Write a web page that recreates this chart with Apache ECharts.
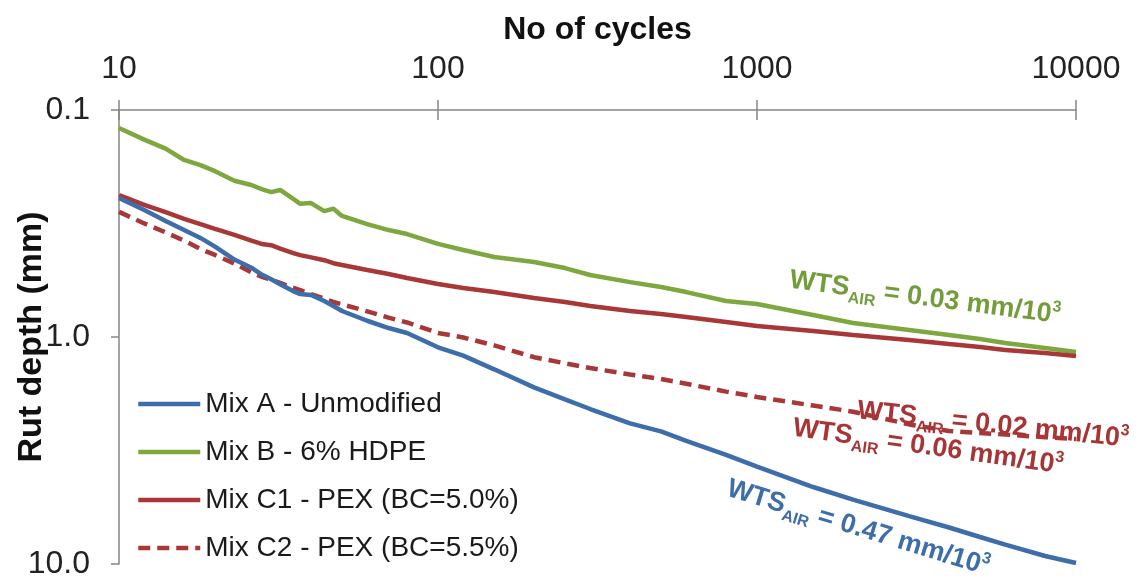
<!DOCTYPE html>
<html><head><meta charset="utf-8">
<script src="https://cdn.jsdelivr.net/npm/echarts@6/dist/echarts.min.js"></script>
<style>html,body{margin:0;padding:0;background:#fff}#c{width:1140px;height:585px}</style>
</head><body><div id="c"></div>
<script>
// ---- data ----
const cycles = [10,12,14,16,18,20,23,26,28,30,32,35,37,40,44,47,50,60,70,80,100,120,150,200,250,300,400,500,600,800,1000,1500,2000,3000,4000,5000,6000,8000,10000];
const mixA  = [0.244,0.276,0.308,0.338,0.366,0.400,0.456,0.495,0.531,0.557,0.586,0.626,0.647,0.653,0.694,0.730,0.768,0.848,0.913,0.960,1.110,1.208,1.388,1.667,1.883,2.076,2.403,2.605,2.871,3.306,3.727,4.580,5.205,6.157,6.906,7.603,8.210,9.220,9.900];
const mixB  = [0.120,0.135,0.148,0.166,0.175,0.186,0.205,0.214,0.223,0.230,0.225,0.245,0.259,0.257,0.279,0.272,0.293,0.318,0.338,0.352,0.389,0.414,0.444,0.467,0.497,0.533,0.573,0.602,0.634,0.694,0.716,0.800,0.868,0.932,0.980,1.020,1.063,1.118,1.165];
const mixC1 = [0.237,0.262,0.282,0.302,0.318,0.334,0.355,0.376,0.389,0.394,0.408,0.426,0.436,0.446,0.459,0.473,0.482,0.507,0.528,0.550,0.584,0.608,0.634,0.673,0.701,0.730,0.769,0.792,0.816,0.859,0.895,0.941,0.980,1.031,1.074,1.107,1.141,1.176,1.212];
const mixC2 = [0.281,0.316,0.346,0.376,0.410,0.435,0.475,0.519,0.543,0.560,0.578,0.606,0.621,0.647,0.678,0.701,0.718,0.771,0.822,0.863,0.960,1.005,1.089,1.227,1.305,1.370,1.463,1.531,1.606,1.740,1.838,2.004,2.133,2.427,2.594,2.648,2.690,2.763,2.815];
const seriesNames = ['Mix A - Unmodified','Mix B - 6% HDPE','Mix C1 - PEX (BC=5.0%)','Mix C2 - PEX (BC=5.5%)'];
const xTickValues = [10,100,1000,10000];
const yTickValues = [0.1,1.0,10.0];
const annotations = [
  {text:'0.03', color:'#739D3A'},
  {text:'0.02', color:'#A83535'},
  {text:'0.06', color:'#A83535'},
  {text:'0.47', color:'#3D6DAA'}
];

// ---- styles ----
const FONT = '"Liberation Sans", Arial, sans-serif';
const BLUE = '#3D6DAA', GREEN = '#7EA83F', RED = '#A83838';
const AXIS = '#868686';

function pairs(xs, ys){ return xs.map((x,i)=>[x, ys[i]]); }

function annot(i, x, y, rotDeg){
  const a = annotations[i];
  return {
    type:'text', x:x, y:y, rotation: -rotDeg*Math.PI/180, z:10,
    style:{
      text:'{w|WTS}{s|AIR}{w| = ' + a.text + ' mm/10}{p|3}',
      fill:a.color, align:'center', verticalAlign:'middle',
      rich:{
        w:{fontSize:27, fontWeight:'bold', fontFamily:FONT, fill:a.color, lineHeight:32, verticalAlign:'middle'},
        s:{fontSize:16, fontWeight:'bold', fontFamily:FONT, fill:a.color, lineHeight:16, verticalAlign:'bottom', padding:[0,0,-2,0]},
        p:{fontSize:16, fontWeight:'bold', fontFamily:FONT, fill:a.color, lineHeight:16, verticalAlign:'top'}
      }
    }
  };
}

const chart = echarts.init(document.getElementById('c'), null, {renderer:'canvas'});
chart.setOption({
  animation:false,
  backgroundColor:'#ffffff',
  grid:{left:119, right:64, top:110, bottom:21, containLabel:false, outerBoundsMode:'none'},
  xAxis:[{
    type:'log', logBase:10, min:10, max:10000, position:'top',
    name:'No of cycles', nameLocation:'middle', nameGap:64, nameMoveOverlap:false,
    nameTextStyle:{fontSize:32, fontWeight:'bold', color:'#111', fontFamily:FONT},
    axisLine:{show:true, lineStyle:{color:AXIS, width:1.5}},
    axisTick:{show:true, length:10, lineStyle:{color:AXIS, width:1.5}},
    minorTick:{show:false},
    splitLine:{show:false},
    axisLabel:{show:true, margin:25, fontSize:32, color:'#222', fontFamily:FONT, showMinLabel:true, showMaxLabel:true,
      formatter:v=>{const r=Math.round(v); return xTickValues.indexOf(r)>=0?String(r):'';}}
  },{
    type:'log', logBase:10, min:10, max:10000, position:'top',
    axisLine:{show:false}, axisLabel:{show:false}, splitLine:{show:false},
    axisTick:{show:true, inside:true, length:10, lineStyle:{color:AXIS, width:1.5}}
  }],
  yAxis:{
    type:'log', logBase:10, min:0.1, max:10, inverse:true,
    name:'Rut depth (mm)', nameLocation:'middle', nameGap:70, nameRotate:90, nameMoveOverlap:false,
    nameTextStyle:{fontSize:34, fontWeight:'bold', color:'#111', fontFamily:FONT},
    axisLine:{show:true, lineStyle:{color:AXIS, width:1.5}},
    axisTick:{show:true, length:8, lineStyle:{color:AXIS, width:1.5}},
    splitLine:{show:false},
    axisLabel:{show:true, margin:29, fontSize:32, color:'#222', fontFamily:FONT, showMinLabel:true, showMaxLabel:true,
      formatter:v=>Number(v).toFixed(1)}
  },
  legend:{
    show:true, orient:'vertical', left:131, top:385,
    itemWidth:62, itemHeight:14, itemGap:20,
    data:seriesNames,
    itemStyle:{opacity:0},
    lineStyle:{width:4.5},
    textStyle:{fontSize:28, color:'#1a1a1a', fontFamily:FONT, lineHeight:28}
  },
  series:[
    {name:seriesNames[0], type:'line', data:pairs(cycles,mixA), symbol:'none', showSymbol:false, lineStyle:{color:BLUE, width:4.5}, itemStyle:{color:BLUE}, z:3},
    {name:seriesNames[1], type:'line', data:pairs(cycles,mixB), symbol:'none', showSymbol:false, lineStyle:{color:GREEN, width:4.5}, itemStyle:{color:GREEN}, z:2},
    {name:seriesNames[2], type:'line', data:pairs(cycles,mixC1), symbol:'none', showSymbol:false, lineStyle:{color:RED, width:4.5}, itemStyle:{color:RED}, z:2},
    {name:seriesNames[3], type:'line', data:pairs(cycles,mixC2), symbol:'none', showSymbol:false, lineStyle:{color:RED, width:4.5, type:[12,7]}, itemStyle:{color:RED}, z:2}
  ],
  graphic:[
    annot(0, 925, 298, 7.5),
    annot(1, 993, 425, 6),
    annot(2, 928, 447, 8),
    annot(3, 858, 528, 17)
  ]
});
</script></body></html>
